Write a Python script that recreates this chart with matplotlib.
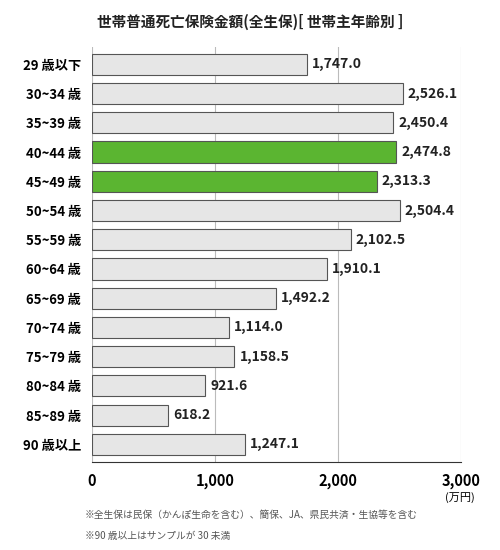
import matplotlib.pyplot as plt
import numpy as np

plt.rcParams['font.family'] = ['Noto Sans CJK JP', 'DejaVu Sans']

ages = ["29 歳以下", "30~34 歳", "35~39 歳", "40~44 歳", "45~49 歳", "50~54 歳",
        "55~59 歳", "60~64 歳", "65~69 歳", "70~74 歳", "75~79 歳", "80~84 歳",
        "85~89 歳", "90 歳以上"]
values = [1747.0, 2526.1, 2450.4, 2474.8, 2313.3, 2504.4, 2102.5, 1910.1,
          1492.2, 1114.0, 1158.5, 921.6, 618.2, 1247.1]
highlight = ["40~44 歳", "45~49 歳"]

colors = ["#5bb531" if a in highlight else "#e6e6e6" for a in ages]

fig = plt.figure(figsize=(5, 5.5), dpi=100)
ax = fig.add_axes([0.184, 0.16, 0.738, 0.755])
y = np.arange(len(ages))
ax.bar
bars = ax.barh(y, values, height=0.72, color=colors, edgecolor="#555555", linewidth=0.8, zorder=3)
for yi, v in zip(y, values):
    ax.text(v + 40, yi, f"{v:,.1f}", va="center", ha="left", fontsize=10, fontweight="bold", color="#222222")

ax.set_yticks(y)
ax.set_yticklabels(ages, fontsize=9.5, fontweight="bold")
ax.set_ylim(len(ages) - 0.4, -0.6)
ax.set_xlim(0, 3000)
ax.set_xticks([0, 1000, 2000, 3000])
ax.set_xticklabels(["0", "1,000", "2,000", "3,000"], fontsize=10.5, fontweight="bold")
ax.xaxis.grid(True, color="#bbbbbb", linewidth=0.8, zorder=0)
for s in ["top", "right", "left"]:
    ax.spines[s].set_visible(False)
ax.spines["bottom"].set_color("#333333")
ax.tick_params(axis="y", length=0, pad=8)
ax.tick_params(axis="x", length=0, pad=8)

fig.text(0.5, 0.96, "世帯普通死亡保険金額(全生保)[ 世帯主年齢別 ]", ha="center", va="center",
         fontsize=10.5, fontweight="bold", color="#222222")
fig.text(0.92, 0.095, "(万円)", ha="center", va="center", fontsize=8)
fig.text(0.17, 0.063, "※全生保は民保（かんぽ生命を含む）、簡保、JA、県民共済・生協等を含む",
         ha="left", va="center", fontsize=7, color="#555555")
fig.text(0.17, 0.025, "※90 歳以上はサンプルが 30 未満", ha="left", va="center", fontsize=7, color="#555555")

fig.savefig("out.png", dpi=100)
